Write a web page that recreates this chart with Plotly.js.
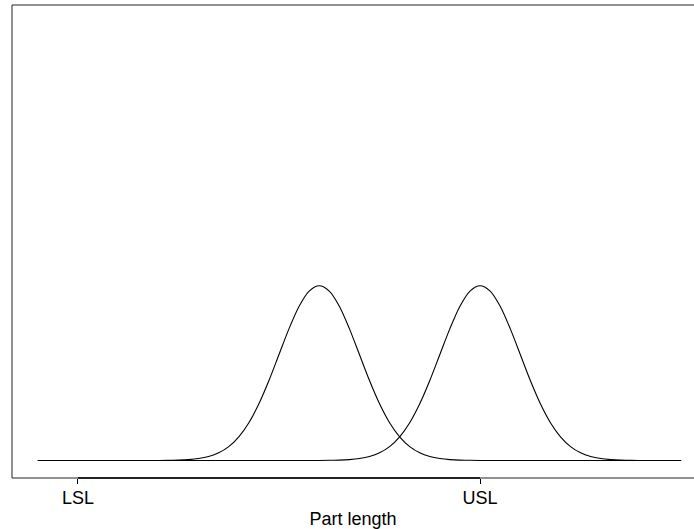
<!DOCTYPE html>
<html>
<head>
<meta charset="utf-8">
<script src="https://cdn.plot.ly/plotly-3.0.1.min.js"></script>
<style>html,body{margin:0;padding:0;background:#fff;}#chart{width:694px;height:529px;}</style>
</head>
<body>
<div id="chart"></div>
<script>
// Process A (centred at 1, sd 1) and process B (centred at USL = 5, sd 1)
var xProcessA = [-6, -3, -2.75, -2.5, -2.25, -2, -1.75, -1.5, -1.25, -1, -0.75, -0.5, -0.25, 0, 0.25, 0.5, 0.75, 1,
                 1.25, 1.5, 1.75, 2, 2.25, 2.5, 2.75, 3, 3.25, 3.5, 3.75, 4, 4.25, 4.5, 4.75, 5, 10];
var yProcessA = [0, 0.0001, 0.0004, 0.0009, 0.0020, 0.0044, 0.0091, 0.0175, 0.0317, 0.0540, 0.0863, 0.1295, 0.1826, 0.2420, 0.3011, 0.3521, 0.3867, 0.3989,
                 0.3867, 0.3521, 0.3011, 0.2420, 0.1826, 0.1295, 0.0863, 0.0540, 0.0317, 0.0175, 0.0091, 0.0044, 0.0020, 0.0009, 0.0004, 0.0001, 0];
var xProcessB = [-6, 1, 1.25, 1.5, 1.75, 2, 2.25, 2.5, 2.75, 3, 3.25, 3.5, 3.75, 4, 4.25, 4.5, 4.75, 5,
                 5.25, 5.5, 5.75, 6, 6.25, 6.5, 6.75, 7, 7.25, 7.5, 7.75, 8, 8.25, 8.5, 8.75, 9, 10];
var yProcessB = [0, 0.0001, 0.0004, 0.0009, 0.0020, 0.0044, 0.0091, 0.0175, 0.0317, 0.0540, 0.0863, 0.1295, 0.1826, 0.2420, 0.3011, 0.3521, 0.3867, 0.3989,
                 0.3867, 0.3521, 0.3011, 0.2420, 0.1826, 0.1295, 0.0863, 0.0540, 0.0317, 0.0175, 0.0091, 0.0044, 0.0020, 0.0009, 0.0004, 0.0001, 0];
var specLimits = [-5, 5];
var specLabels = ['LSL', 'USL'];
var xTitle = 'Part length';

var lineStyle = {color: '#000', width: 1.1, shape: 'spline', smoothing: 0.8};
var traces = [
  {x: xProcessA, y: yProcessA, type: 'scatter', mode: 'lines', line: lineStyle, hoverinfo: 'skip'},
  {x: xProcessB, y: yProcessB, type: 'scatter', mode: 'lines', line: lineStyle, hoverinfo: 'skip'}
];

var font = {family: '"Liberation Sans", Arial, Helvetica, sans-serif', size: 18, color: '#000'};
var layout = {
  width: 694, height: 529,
  margin: {l: 12, r: 0, t: 5, b: 51},
  paper_bgcolor: '#fff', plot_bgcolor: '#fff',
  showlegend: false,
  font: font,
  xaxis: {
    range: [-6.64, 10.32], showgrid: false, zeroline: false, showline: false,
    tickmode: 'array', tickvals: specLimits, ticktext: specLabels,
    ticks: 'outside', ticklen: 5, tickwidth: 1, tickcolor: '#000',
    ticklabelstandoff: -2,
    tickfont: font,
    title: {text: xTitle, font: font, standoff: 6}
  },
  yaxis: {
    range: [-0.04, 1.04], showgrid: false, zeroline: false, showline: false,
    showticklabels: false, ticks: ''
  },
  shapes: [
    {type: 'rect', xref: 'paper', yref: 'paper', x0: 0, x1: 1.2, y0: 0, y1: 1,
     line: {color: '#222', width: 1}, fillcolor: 'rgba(0,0,0,0)'},
    {type: 'line', xref: 'x', yref: 'paper', x0: specLimits[0], x1: specLimits[1], y0: 0, y1: 0,
     line: {color: '#000', width: 1.6}}
  ]
};
Plotly.newPlot('chart', traces, layout, {staticPlot: true, displayModeBar: false});
</script>
</body>
</html>
